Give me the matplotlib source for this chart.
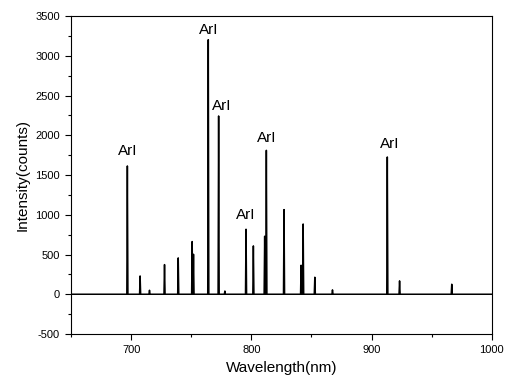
import numpy as np
import matplotlib.pyplot as plt
from matplotlib.ticker import MultipleLocator

plt.rcParams['font.family'] = ['Liberation Sans', 'DejaVu Sans']
plt.rcParams['axes.unicode_minus'] = False

# emission lines (nm, counts)
wavelengths = [696.9, 707.5, 715.3, 727.8, 739.2, 750.8, 751.9, 764.2, 772.8, 778.0,
               795.6, 801.7, 811.1, 812.5, 827.2, 841.4, 843.1, 852.8, 867.5,
               913.1, 923.3, 966.7]
intensities = [1614, 230, 50, 373, 457, 663, 503, 3203, 2243, 40,
               818, 608, 730, 1811, 1065, 365, 884, 214, 55,
               1727, 168, 126]

# lines labelled ArI
label_wl = [696.9, 764.2, 772.8, 795.6, 812.5, 913.1]
label_h = [1614, 3203, 2243, 818, 1811, 1727]
label_text = ["ArI"] * 6
label_dx = [0.5, 0.0, 2.5, -0.5, 0.5, 2.0]   # points
label_dy = [6, 2, 2, 5, 4, 4]                # points

# spectrum start/end
x_start, x_end = 650, 1000


def build_line(wl, h, half_width=0.45):
    xs = [x_start]
    ys = [0]
    for w, v in sorted(zip(wl, h)):
        xs += [w - half_width, w, w + half_width]
        ys += [0, v, 0]
    xs.append(x_end)
    ys.append(0)
    return np.array(xs), np.array(ys)


fig = plt.figure(figsize=(5.07, 3.83), dpi=100)
ax = fig.add_axes([0.140, 0.128, 0.830, 0.830])

x, y = build_line(wavelengths, intensities)
ax.plot(x, y, color='black', linewidth=1.1)

for w, h, t, dx, dy in zip(label_wl, label_h, label_text, label_dx, label_dy):
    ax.annotate(t, xy=(w, h), xytext=(dx, dy), textcoords='offset points',
                ha='center', va='bottom', fontsize=11)

ax.set_xlim(650, 1000)
ax.set_ylim(-500, 3500)
ax.xaxis.set_major_locator(MultipleLocator(100))
ax.xaxis.set_minor_locator(MultipleLocator(50))
ax.yaxis.set_major_locator(MultipleLocator(500))
ax.yaxis.set_minor_locator(MultipleLocator(250))
ax.tick_params(which='both', direction='out', top=False, right=False, labelsize=8)
ax.tick_params(which='major', length=4.5, width=0.8)
ax.tick_params(which='minor', length=2.5, width=0.8)

ax.set_xlabel("Wavelength(nm)", fontsize=11)
ax.set_ylabel("Intensity(counts)", fontsize=11)

fig.savefig("out.png", dpi=100)
